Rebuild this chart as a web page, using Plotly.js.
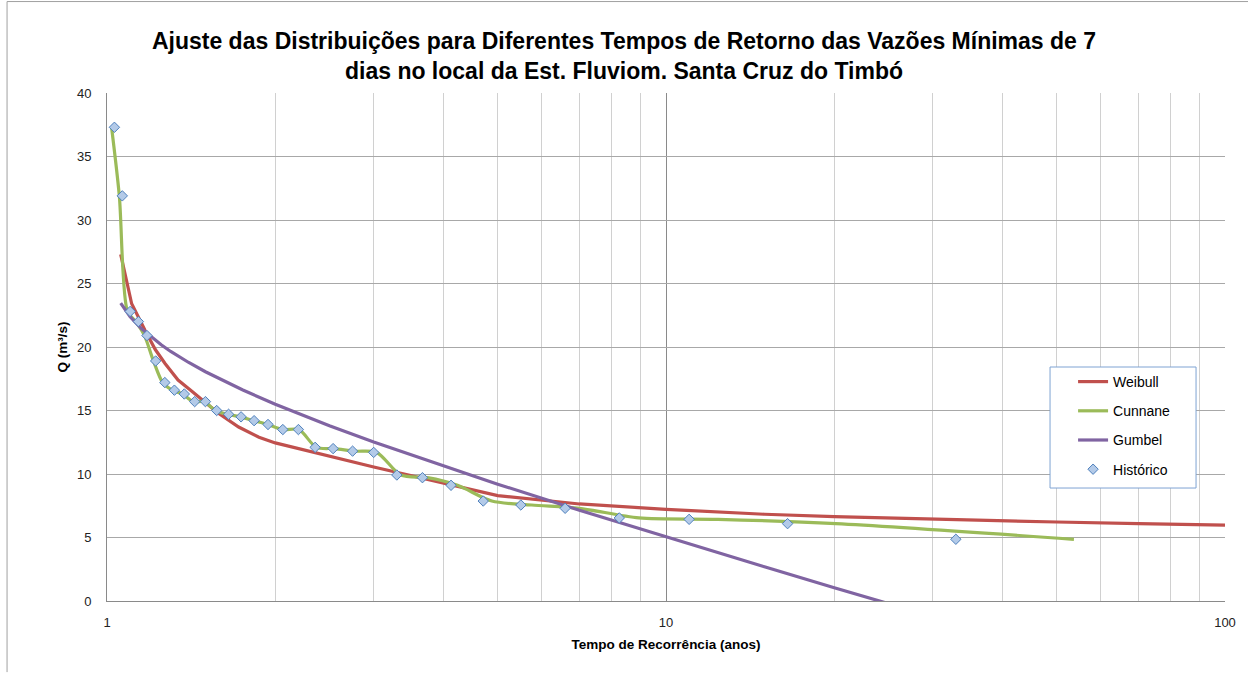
<!DOCTYPE html>
<html>
<head>
<meta charset="utf-8">
<script src="https://cdn.plot.ly/plotly-3.0.1.min.js"></script>
<style>
html,body{margin:0;padding:0;background:#fff;}
#chart{width:1248px;height:675px;}
</style>
</head>
<body>
<div id="chart"></div>
<script>
// Histórico (Weibull plotting positions)
const histT = [33.0, 16.5, 11.0, 8.25, 6.6, 5.5, 4.71, 4.125, 3.667, 3.3, 3.0, 2.75, 2.538, 2.357, 2.2, 2.063,
               1.941, 1.833, 1.737, 1.65, 1.571, 1.5, 1.435, 1.375, 1.32, 1.269, 1.222, 1.179, 1.138, 1.1, 1.065, 1.031];
const histQ = [4.86, 6.09, 6.43, 6.54, 7.30, 7.56, 7.87, 9.11, 9.71, 9.92, 11.7, 11.8, 12.0, 12.1, 13.5, 13.5,
               13.9, 14.2, 14.5, 14.7, 15.0, 15.7, 15.7, 16.3, 16.6, 17.2, 18.9, 20.9, 22.0, 22.8, 31.9, 37.3];
// Cunnane curve positions
const cunT = [53.67, 20.13, 12.39, 8.944, 7.0, 5.75, 4.879, 4.237, 3.744, 3.354, 3.038, 2.776, 2.556, 2.368, 2.205, 2.064,
              1.940, 1.830, 1.731, 1.643, 1.563, 1.491, 1.425, 1.364, 1.309, 1.258, 1.211, 1.167, 1.126, 1.088, 1.052, 1.019];
const cunQ = histQ;
// Weibull fitted curve
const weiT = [1.058, 1.107, 1.17, 1.22, 1.27, 1.34, 1.42, 1.5, 1.58, 1.72, 1.87, 2.0, 3.0, 5.0, 7.0, 10, 15, 20, 30, 50, 70, 100];
const weiQ = [27.3, 23.4, 21.3, 19.8, 18.7, 17.4, 16.5, 15.6, 14.8, 13.7, 12.9, 12.45, 10.55, 8.3, 7.64, 7.22, 6.83, 6.64, 6.43, 6.22, 6.09, 5.97];
// Gumbel fitted curve
const gumT = [1.058, 1.1, 1.15, 1.2, 1.25, 1.3, 1.4, 1.5, 1.75, 2.0, 2.5, 3.0, 4.0, 5.0, 7.0, 10, 15, 20, 30, 50, 100];
const gumQ = [23.45, 22.38, 21.48, 20.77, 20.17, 19.65, 18.78, 18.05, 16.61, 15.5, 13.8, 12.52, 10.62, 9.2, 7.15, 5.04, 2.69, 1.05, -1.25, -4.13, -8.0];

const xTickVals = [1, 10, 100];
const xTickText = ['1', '10', '100'];

const minorVals = [];
for (let d = 1; d <= 10; d *= 10) for (let k = 2; k <= 9; k++) minorVals.push(k * d);

const FONT = 'Liberation Sans, Arial, sans-serif';

const traces = [
  {x: weiT, y: weiQ, name: 'Weibull', mode: 'lines', line: {color: '#C0504D', width: 3.2}, legendgroup: 'a'},
  {x: cunT, y: cunQ, name: 'Cunnane', mode: 'lines', line: {color: '#9BBB59', width: 3.2, shape: 'spline', smoothing: 0.8}, legendgroup: 'b'},
  {x: gumT, y: gumQ, name: 'Gumbel', mode: 'lines', line: {color: '#8064A2', width: 3.2}, legendgroup: 'c'},
  {x: histT, y: histQ, name: 'Histórico', mode: 'markers', marker: {symbol: 'diamond', size: 8, color: '#B3CAE8', line: {color: '#4F81BD', width: 1}}, legendgroup: 'd', cliponaxis: false}
];

const layout = {
  width: 1248, height: 675,
  margin: {l: 107, r: 23, t: 93, b: 74},
  paper_bgcolor: '#ffffff', plot_bgcolor: '#ffffff',
  font: {family: FONT, size: 13, color: '#222'},
  title: {
    text: '<b>Ajuste das Distribuições para Diferentes Tempos de Retorno das Vazões Mínimas de 7<br>dias no local da Est. Fluviom. Santa Cruz do Timbó</b>',
    font: {family: FONT, size: 23, color: '#000'},
    x: 0.5, xref: 'container', xanchor: 'center',
    y: 0.928, yref: 'container', yanchor: 'top'
  },
  xaxis: {
    type: 'log', range: [0, 2],
    tickmode: 'array', tickvals: xTickVals, ticktext: xTickText,
    showgrid: true, gridcolor: '#8a8a8a', gridwidth: 1,
    minor: {tickmode: 'array', tickvals: minorVals, showgrid: true, gridcolor: '#d0d0d0', gridwidth: 1, ticks: ''},
    showline: true, linecolor: '#8a8a8a', linewidth: 1, mirror: false,
    ticks: '', ticklen: 0, zeroline: false, ticklabelstandoff: 9,
    tickfont: {family: FONT, size: 13, color: '#222'},
    title: {text: '<b>Tempo de Recorrência (anos)</b>', font: {family: FONT, size: 13.5, color: '#000'}, standoff: 10}
  },
  yaxis: {
    range: [0, 40], dtick: 5, tick0: 0,
    showgrid: true, gridcolor: '#a8a8a8', gridwidth: 1,
    showline: true, linecolor: '#8a8a8a', linewidth: 1,
    ticks: '', zeroline: false, ticklabelstandoff: 12,
    tickfont: {family: FONT, size: 13, color: '#222'},
    title: {text: '<b>Q (m³/s)</b>', font: {family: FONT, size: 13.5, color: '#000'}, standoff: 6}
  },
  legend: {
    x: 0.8641, y: 0.4626, xanchor: 'left', yanchor: 'top',
    bgcolor: 'rgba(0,0,0,0)', borderwidth: 0,
    font: {family: FONT, size: 14, color: '#000'},
    traceorder: 'grouped', tracegroupgap: 8, itemwidth: 30
  },
  shapes: [
    {type: 'line', xref: 'paper', yref: 'paper', x0: -0.0894, x1: -0.0894, y0: 1.18, y1: -0.14, line: {color: '#a0a0a0', width: 1}},
    {type: 'line', xref: 'paper', yref: 'paper', x0: -0.0894, x1: 1.03, y0: 1.18, y1: 1.18, line: {color: '#a0a0a0', width: 1}},
    {type: 'rect', xref: 'paper', yref: 'paper', x0: 0.8435, x1: 0.9741, y0: 0.2224, y1: 0.4606, layer: 'above',
     fillcolor: '#ffffff', line: {color: '#7FA3D3', width: 1}}
  ],
  showlegend: true
};

Plotly.newPlot('chart', traces, layout, {displayModeBar: false, staticPlot: true});
</script>
</body>
</html>
